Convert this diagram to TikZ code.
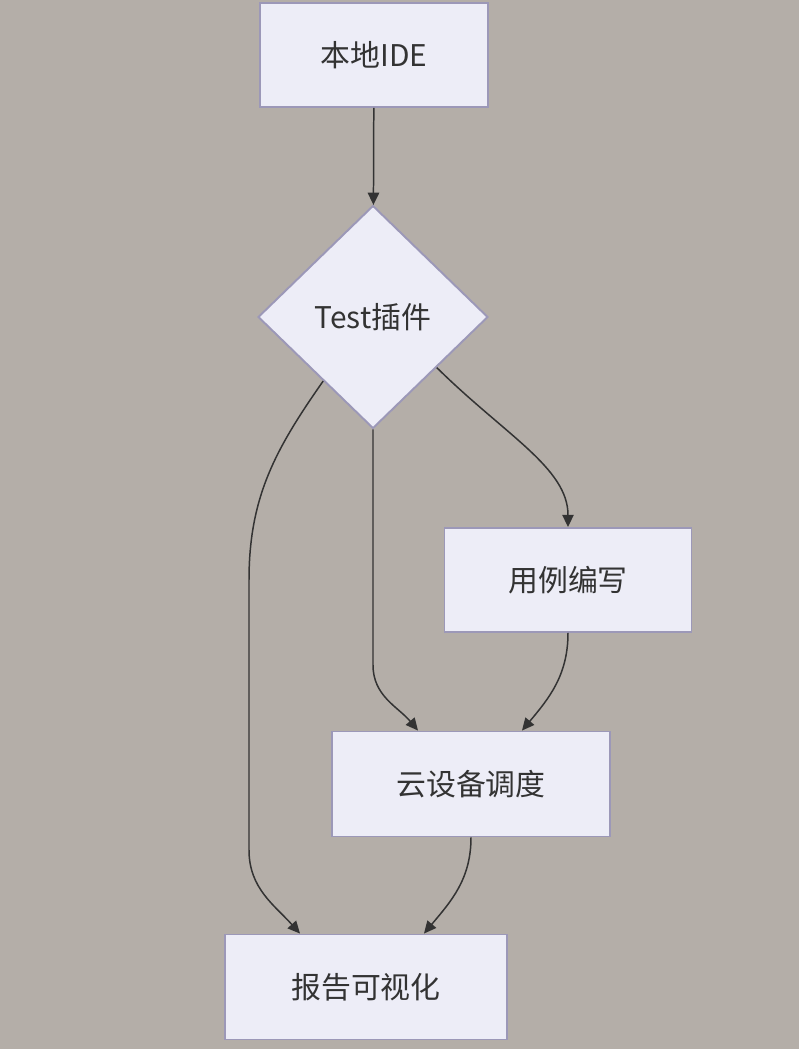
\documentclass[tikz,border=0pt]{standalone}
\usepackage{fontspec}
\usepackage{xcolor}
\usepackage{tikz}
\usetikzlibrary{arrows.meta,shapes.geometric,calc}
\newfontfamily\cjk{Noto Sans CJK SC}
\definecolor{bg}{HTML}{B4AEA8}
\definecolor{boxfill}{HTML}{EDEDF7}
\definecolor{boxline}{HTML}{9C98B8}
\definecolor{ink}{HTML}{333333}

\begin{document}
\begin{tikzpicture}[x=0.02cm,y=-0.02cm,
  font=\cjk\fontsize{17}{20}\selectfont,
  stepbox/.style={draw=boxline,fill=boxfill,line width=1.1pt,text=ink,inner sep=0pt},
  choice/.style={diamond,draw=boxline,fill=boxfill,line width=1.1pt,text=ink,inner sep=0pt,
    minimum width=4.6cm,minimum height=4.46cm},
  flow/.style={draw=ink,line width=0.85pt,-{Triangle[length=7pt,width=6.5pt]}}]
  \fill[bg] (0,0) rectangle (799,1049);
  \useasboundingbox (0,0) rectangle (799,1049);
  \node[stepbox,minimum width=4.56cm,minimum height=2.08cm] (ide) at (374,55) {本地IDE};
  \node[choice] (dia) at (373,317) {Test插件};
  \node[stepbox,minimum width=4.94cm,minimum height=2.08cm] (case) at (568,580) {用例编写};
  \node[stepbox,minimum width=5.56cm,minimum height=2.1cm] (cloud) at (471,784) {云设备调度};
  \node[stepbox,minimum width=5.64cm,minimum height=2.1cm] (rep) at (366,987) {报告可视化};
  \coordinate (dl) at ($(dia.west)!0.57!(dia.south)$);
  \coordinate (dr) at ($(dia.east)!0.45!(dia.south)$);
  \coordinate (lb1) at (249,580);
  \coordinate (lb2) at (249,850);
  \coordinate (mb) at (373,665);
  \draw[flow] (ide) -- (dia);
  \draw[flow] (dl) to[out=-125,in=90] (lb1) -- (lb2) to[out=-90,in=132] ([xshift=-1.32cm]rep.north);
  \draw[flow] (dia.south) -- (mb) to[out=-90,in=130] ([xshift=-1.06cm]cloud.north);
  \draw[flow] (dr) .. controls (505,435) and (568,468) .. (case.north);
  \draw[flow] (case.south) to[out=-90,in=50] ([xshift=1.02cm]cloud.north);
  \draw[flow] (cloud.south) to[out=-90,in=50] ([xshift=1.16cm]rep.north);
\end{tikzpicture}
\end{document}
